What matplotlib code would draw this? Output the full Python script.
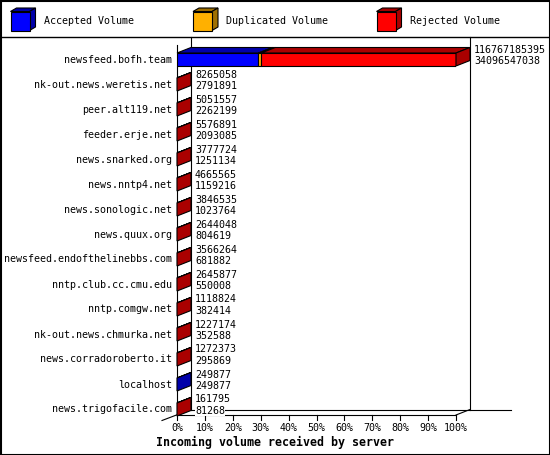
import numpy as np
import matplotlib.pyplot as plt
from matplotlib.patches import Polygon

# data
servers = ['newsfeed.bofh.team', 'nk-out.news.weretis.net', 'peer.alt119.net',
           'feeder.erje.net', 'news.snarked.org', 'news.nntp4.net',
           'news.sonologic.net', 'news.quux.org', 'newsfeed.endofthelinebbs.com',
           'nntp.club.cc.cmu.edu', 'nntp.comgw.net', 'nk-out.news.chmurka.net',
           'news.corradoroberto.it', 'localhost', 'news.trigofacile.com']
total = [116767185395, 8265058, 5051557, 5576891, 3777724, 4665565, 3846535,
         2644048, 3566264, 2645877, 1118824, 1227174, 1272373, 249877, 161795]
accepted = [34096547038, 2791891, 2262199, 2093085, 1251134, 1159216, 1023764,
            804619, 681882, 550008, 382414, 352588, 295869, 249877, 81268]
duplicated = [1200000000, 0, 0, 0, 0, 0, 0, 0, 0, 0, 0, 0, 0, 0, 0]
legend_names = ['Accepted Volume', 'Duplicated Volume', 'Rejected Volume']
ticks = [0, 10, 20, 30, 40, 50, 60, 70, 80, 90, 100]

front = ['#0000ff', '#ffb000', '#ff0000']
side = ['#0000aa', '#a07000', '#aa0000']
mono = 'DejaVu Sans Mono'
W, H = 550, 455

fig = plt.figure(figsize=(5.5, 4.55), dpi=100)

# frame and legend, in pixel units
bg = fig.add_axes([0, 0, 1, 1])
bg.set_xlim(0, W)
bg.set_ylim(H, 0)
bg.axis('off')
bg.plot([0.5, W - 0.5, W - 0.5, 0.5, 0.5], [0.5, 0.5, H - 0.5, H - 0.5, 0.5], color='k', lw=1.5)
bg.plot([0, W], [36.5, 36.5], color='k', lw=1)

for k, x0 in enumerate([10.5, 193, 376.5]):
    y0, s, d = 11.5, 19, 6
    bg.add_patch(Polygon([(x0, y0), (x0 + s, y0), (x0 + s + d, y0 - 3.5), (x0 + d, y0 - 3.5)],
                         fc=side[k], ec='k', lw=0.8))
    bg.add_patch(Polygon([(x0 + s, y0), (x0 + s + d, y0 - 3.5), (x0 + s + d, y0 + s - 3.5), (x0 + s, y0 + s)],
                         fc=side[k], ec='k', lw=0.8))
    bg.add_patch(Polygon([(x0, y0), (x0 + s, y0), (x0 + s, y0 + s), (x0, y0 + s)],
                         fc=front[k], ec='k', lw=0.8))
    bg.text(x0 + 33.5, 21, legend_names[k], family=mono, fontsize=7.2, va='center', ha='left')

bg.text(156, 442, 'Incoming volume received by server', family=mono, fontsize=8.4,
        fontweight='bold', va='center', ha='left')

# main chart: x in percent of the largest server, y in rows
ax = fig.add_axes([177 / W, (H - 415) / H, 279 / W, 370 / H])
r_top = (45 - 59.5) / 25
r_bot = (415 - 59.5) / 25
ax.set_xlim(0, 100)
ax.set_ylim(r_bot, r_top)
ax.axis('off')

px = 279 / 100          # pixels per percent
DX = 14 / px            # depth in percent
DY = 5.5 / 25           # depth in rows
h = 6.5 / 25
r_wall = (37 - 59.5) / 25

kw = dict(color='k', lw=0.8, clip_on=False, zorder=1)
ax.plot([0, 0], [r_top, r_bot], **kw)
ax.plot([DX, DX], [r_wall, r_bot - DY], **kw)
ax.plot([100 + DX, 100 + DX], [r_wall, r_bot - DY], **kw)
ax.plot([0, 100], [r_bot, r_bot], **kw)
ax.plot([100, 100 + DX], [r_bot, r_bot - DY], **kw)
ax.plot([DX, (511 - 177) / px], [r_bot - DY, r_bot - DY], **kw)
ax.plot([-15 / px, DX], [r_bot + 5.5 / 25, r_bot - DY], **kw)
for t in ticks:
    ax.plot([t, t], [r_bot, r_bot + 5 / 25], **kw)
    ax.text(t, r_bot + 13 / 25, f'{t}%', family=mono, fontsize=7.2, ha='center', va='center')

vmax = max(total)
for i, name in enumerate(servers):
    pct = total[i] / vmax * 100
    a = accepted[i] / vmax * 100
    d = duplicated[i] / vmax * 100
    segs = [(0, a), (a, a + d), (a + d, pct)]
    last = 0
    for k, (l, r) in enumerate(segs):
        w = r - l
        if w <= 0:
            continue
        last = k
        ax.barh(i, w, left=l, height=2 * h, color=front[k], edgecolor='k', lw=0.8, zorder=3)
        ax.add_patch(Polygon([(l, i - h), (r, i - h), (r + DX, i - h - DY), (l + DX, i - h - DY)],
                             fc=side[k], ec='k', lw=0.8, zorder=3, clip_on=False))
    ax.add_patch(Polygon([(pct, i - h), (pct + DX, i - h - DY), (pct + DX, i + h - DY), (pct, i + h)],
                         fc=side[last], ec='k', lw=0.8, zorder=3, clip_on=False))

    ax.text(-5 / px, i, name, family=mono, fontsize=7.2, ha='right', va='center', clip_on=False)
    tx = pct + DX + 4 / px
    ax.text(tx, i - 0.40, str(total[i]), family=mono, fontsize=7.2, ha='left', va='center',
            zorder=4, clip_on=False)
    ax.text(tx, i + 0.05, str(accepted[i]), family=mono, fontsize=7.2, ha='left', va='center',
            zorder=4, clip_on=False, bbox=dict(fc='white', ec='none', pad=0))

fig.savefig('out.png', dpi=100)
